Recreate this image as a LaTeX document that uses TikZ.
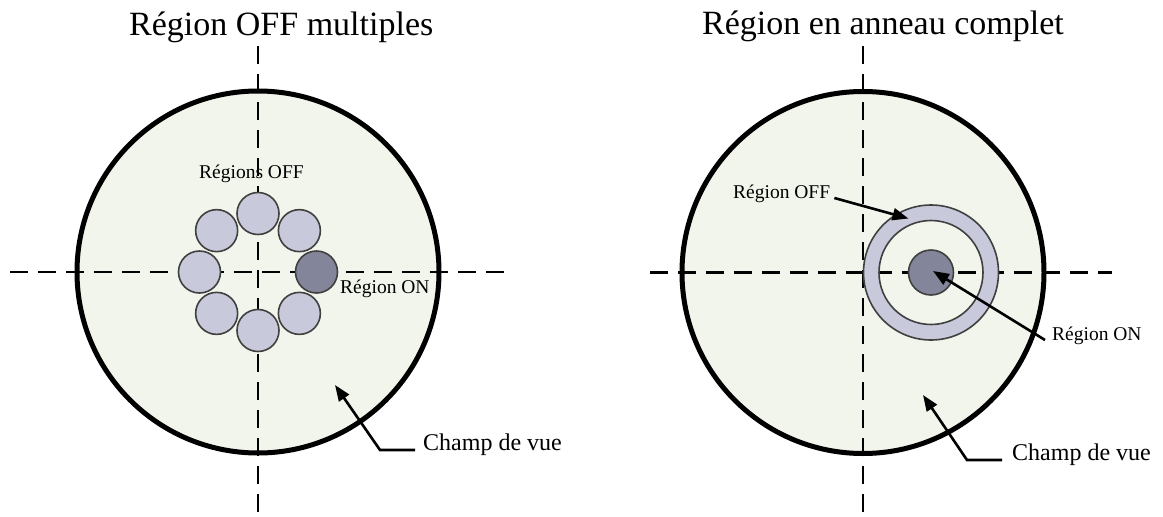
\documentclass[tikz,border=0pt]{standalone}
\usepackage{fontspec}
\setmainfont{Liberation Serif}
\usepackage{xcolor}
\usepackage{tikz}
\usetikzlibrary{arrows.meta}
\definecolor{champvert}{HTML}{F2F5EB}
\definecolor{offgris}{HTML}{C8CADC}
\definecolor{ongris}{HTML}{83869A}

\tikzset{
  champ/.style={draw=black,line width=5pt},
  axe/.style={line width=2.8pt,dash pattern=on 18pt off 10pt},
  offdisque/.style={draw=black!75,line width=1.6pt,fill=offgris},
  ondisque/.style={draw=black!75,line width=1.6pt,fill=ongris},
  fleche/.style={-{Triangle[length=16pt,width=12pt]},line width=2.6pt},
  titre/.style={anchor=base west,inner sep=0pt,font=\fontsize{34}{40}\selectfont},
  etiquette/.style={anchor=base west,inner sep=0pt,font=\fontsize{19.5}{23}\selectfont},
  legende/.style={anchor=base west,inner sep=0pt,font=\fontsize{24}{28}\selectfont}
}

\begin{document}
\begin{tikzpicture}[x=1pt,y=-1pt]
  \useasboundingbox (0,0) rectangle (1163,517);
  \coordinate (centreL) at (258,272);
  \coordinate (centreR) at (863,272.5);
  \coordinate (anneau) at (931,272.5);

  % champ de vue
  \fill[champvert] (centreL) circle (181);
  \fill[champvert] (centreR) circle (181);

  % axes
  \draw[axe] (258,46) -- (258,517);
  \draw[axe] (10,272) -- (505,272);
  \draw[axe] (863,46) -- (863,517);
  \draw[axe] (650,272.5) -- (1112,272.5);

  \draw[champ] (centreL) circle (181);
  \draw[champ] (centreR) circle (181);

  % regions OFF multiples
  \foreach \a in {45,90,...,315}
    \draw[offdisque] ([shift={(\a:58.5)}]centreL) circle (21);
  \draw[ondisque] ([shift={(0:58.5)}]centreL) circle (21);

  % anneau complet
  \draw[offdisque,even odd rule] (anneau) circle (67.5) (anneau) circle (52);
  \draw[ondisque] (anneau) circle (22.5);
  \coordinate (pointOFF) at (908.5,218.5);
  \coordinate (pointON) at (933,271);
  \coordinate (pointChampL) at (335,385);
  \coordinate (pointChampR) at (923,395);

  \node[titre] (titreL) at (129,35) {Région OFF multiples};
  \node[titre] (titreR) at (702,34) {Région en anneau complet};

  \node[etiquette] (offL) at (199,178) {Régions OFF};
  \node[etiquette] (onL) at (340,293) {Région ON};
  \node[legende] (champL) at (423,450) {Champ de vue};

  \node[etiquette] (offR) at (733,198) {Région OFF};
  \node[etiquette] (onR) at (1052,340) {Région ON};
  \node[legende] (champR) at (1012,460) {Champ de vue};

  \draw[fleche] ([xshift=4pt]offR.base east) -- (pointOFF);
  \draw[fleche] ([xshift=-7pt]onR.base west) -- (pointON);
  \draw[fleche] ([xshift=-8pt]champL.base west) -- ++(-35,0) -- (pointChampL);
  \draw[fleche] ([xshift=-10pt]champR.base west) -- ++(-35,0) -- (pointChampR);
\end{tikzpicture}
\end{document}
